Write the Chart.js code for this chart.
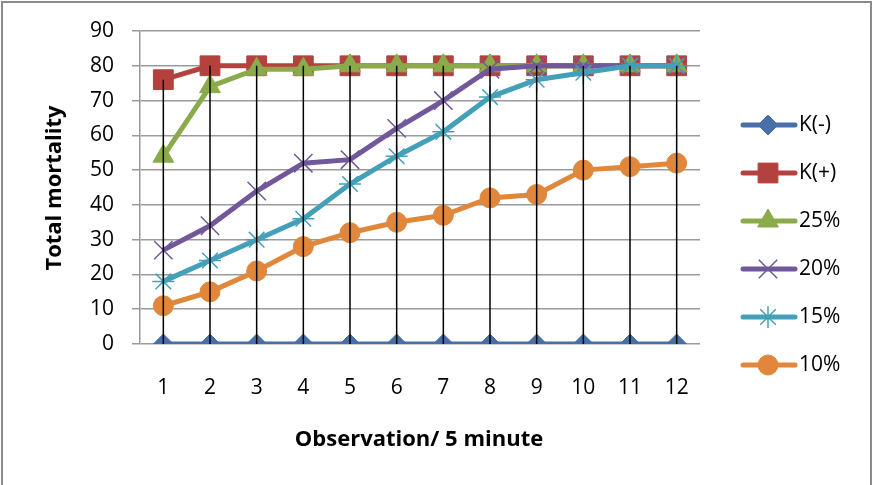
<!DOCTYPE html>
<html>
<head>
<meta charset="utf-8">
<script src="https://cdn.jsdelivr.net/npm/chart.js@4"></script>
<style>
  html, body { margin: 0; padding: 0; background: #fff; }
  canvas { display: block; }
</style>
</head>
<body>
<canvas id="chart" width="873" height="485"></canvas>
<script>
// categories (observation number)
const categories = ['1', '2', '3', '4', '5', '6', '7', '8', '9', '10', '11', '12'];

// series values
const kNeg   = [0, 0, 0, 0, 0, 0, 0, 0, 0, 0, 0, 0];
const kPos   = [76, 80, 80, 80, 80, 80, 80, 80, 80, 80, 80, 80];
const pct25  = [54, 74, 79, 79, 80, 80, 80, 80, 80, 80, 80, 80];
const pct20  = [27, 34, 44, 52, 53, 62, 70, 79, 80, 80, 80, 80];
const pct15  = [18, 24, 30, 36, 46, 54, 61, 71, 76, 78, 80, 80];
const pct10  = [11, 15, 21, 28, 32, 35, 37, 42, 43, 50, 51, 52];

const seriesNames = ['K(-)', 'K(+)', '25%', '20%', '15%', '10%'];
const yTicks = [0, 10, 20, 30, 40, 50, 60, 70, 80, 90];

const FONT = '"Open Sans", Lato, sans-serif';

function makeSet(label, data, color, style, radius, order, bw) {
  return {
    label: label,
    data: data,
    borderColor: color,
    backgroundColor: color,
    borderWidth: 5,
    pointStyle: style,
    pointRadius: radius,
    pointHoverRadius: radius,
    pointBackgroundColor: color,
    pointBorderColor: color,
    pointBorderWidth: bw,
    tension: 0,
    order: order
  };
}

const datasets = [
  makeSet(seriesNames[0], kNeg,  '#4670A7', 'rectRot',  10, 6, 1),
  makeSet(seriesNames[1], kPos,  '#B3423F', 'rect',     14, 5, 1),
  makeSet(seriesNames[2], pct25, '#8AAA4B', 'triangle', 12, 4, 1),
  makeSet(seriesNames[3], pct20, '#71589A', 'crossRot', 13, 3, 1.5),
  makeSet(seriesNames[4], pct15, '#44A0B9', 'star',     11, 2, 1.5),
  makeSet(seriesNames[5], pct10, '#E0873C', 'circle',   10, 1, 1)
];

// black high-low lines, axis titles, legend and outer frame
const extras = {
  id: 'extras',
  afterDatasetsDraw(chart) {
    const ctx = chart.ctx;
    const x = chart.scales.x, y = chart.scales.y;
    ctx.save();
    ctx.strokeStyle = '#000';
    ctx.lineWidth = 1.5;
    categories.forEach((c, i) => {
      const vals = datasets.map(d => d.data[i]);
      const px = x.getPixelForValue(i);
      ctx.beginPath();
      ctx.moveTo(px, y.getPixelForValue(Math.max(...vals)));
      ctx.lineTo(px, y.getPixelForValue(Math.min(...vals)));
      ctx.stroke();
    });
    ctx.restore();
  },
  afterDraw(chart) {
    const ctx = chart.ctx;
    ctx.save();
    // axis titles
    ctx.fillStyle = '#000';
    ctx.font = 'bold 22px ' + FONT;
    ctx.textAlign = 'center';
    ctx.textBaseline = 'middle';
    ctx.fillText('Observation/ 5 minute', 419, 440);
    ctx.translate(55, 188);
    ctx.rotate(-Math.PI / 2);
    ctx.fillText('Total mortality', 0, 0);
    ctx.restore();

    // legend
    ctx.save();
    ctx.font = '21px ' + FONT;
    ctx.textAlign = 'left';
    ctx.textBaseline = 'middle';
    datasets.forEach((d, i) => {
      const ly = 125 + i * 48;
      ctx.strokeStyle = d.borderColor;
      ctx.lineWidth = 5;
      ctx.lineCap = 'round';
      ctx.beginPath();
      ctx.moveTo(743, ly);
      ctx.lineTo(795, ly);
      ctx.stroke();
      ctx.fillStyle = d.pointBackgroundColor;
      ctx.strokeStyle = d.pointBorderColor;
      ctx.lineWidth = d.pointBorderWidth;
      ctx.lineCap = 'butt';
      Chart.helpers.drawPoint(ctx, {
        pointStyle: d.pointStyle,
        radius: d.pointRadius,
        rotation: 0,
        borderWidth: d.pointBorderWidth
      }, 768, ly);
      ctx.fillStyle = '#000';
      ctx.fillText(d.label, 799, ly);
    });
    ctx.restore();

    // outer frame
    ctx.save();
    ctx.strokeStyle = '#8a8a8a';
    ctx.lineWidth = 2;
    ctx.strokeRect(2, 2, 869, 520);
    ctx.restore();
  }
};

new Chart(document.getElementById('chart'), {
  type: 'line',
  data: { labels: categories, datasets: datasets },
  options: {
    responsive: false,
    animation: false,
    layout: { padding: { left: 0, top: 31, right: 173, bottom: 0 } },
    plugins: { legend: { display: false }, tooltip: { enabled: false } },
    scales: {
      x: {
        offset: true,
        grid: { display: false, drawTicks: false },
        border: { display: false },
        ticks: { color: '#000', font: { family: FONT, size: 21 }, padding: 31, maxRotation: 0 },
        afterFit(scale) { scale.height = 141; }
      },
      y: {
        min: 0,
        max: 90,
        afterBuildTicks(scale) { scale.ticks = yTicks.map(v => ({ value: v })); },
        grid: { color: '#9a9a9a', lineWidth: 1.5, tickLength: 8 },
        border: { display: true, color: '#9a9a9a', width: 1.5 },
        ticks: { color: '#000', font: { family: FONT, size: 21 }, padding: 18 },
        afterFit(scale) { scale.width = 140; }
      }
    }
  },
  plugins: [extras]
});
</script>
</body>
</html>
